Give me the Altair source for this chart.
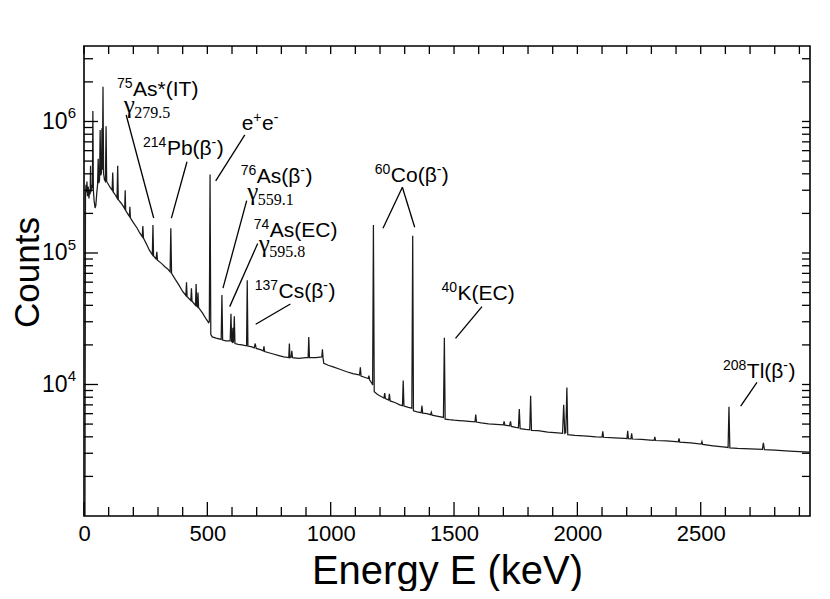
import altair as alt
import pandas as pd

# ---------------- spectrum ----------------
energy_keV = [
    4, 6, 8, 10, 12, 14, 17, 20, 23, 25, 26.5, 28, 31, 34, 36, 38, 41, 45, 48, 52,
    55, 57.5, 60, 63, 65.5, 68, 71, 72.8, 74.5, 77, 79.5, 83, 87, 89.5, 92, 98,
    106, 114, 116.5, 119, 128, 134, 136.5, 139, 150, 160, 165, 167, 169, 180,
    184, 186, 188, 200, 215, 226, 236, 238.6, 241, 255, 265, 277, 279.5, 282,
    292, 295.2, 298, 315, 330, 338, 349, 351.9, 355, 370, 385, 400, 413, 415.5,
    418, 433, 435.5, 438, 452, 454.5, 457, 459.5, 462, 464.5, 480, 495, 505, 508,
    511, 514, 520, 535, 556, 559.1, 562, 575, 592.5, 595.8, 598.5, 601, 603.5,
    606, 609.3, 612, 625, 640, 650, 659, 661.7, 664.5, 680, 690, 694, 698, 715,
    727, 729.5, 732, 760, 790, 810, 830, 832.5, 835, 840, 842.5, 845, 870, 900,
    908.5, 911.2, 914, 940, 964, 966.5, 969, 972, 990, 1010, 1040, 1065, 1090,
    1110, 1117, 1120.3, 1123, 1140, 1152, 1155, 1158, 1166, 1170, 1173.2, 1176.5,
    1190, 1210, 1216, 1219, 1222, 1235, 1238, 1241, 1260, 1280, 1291, 1294, 1297,
    1315, 1329, 1332.5, 1335.5, 1350, 1367, 1370, 1373, 1390, 1405, 1408, 1411,
    1430, 1457, 1460.8, 1464, 1480, 1500, 1520, 1540, 1560, 1585, 1588, 1591,
    1610, 1640, 1670, 1700, 1703, 1706, 1725, 1729, 1732, 1750, 1761, 1764.5,
    1768, 1790, 1807, 1810.5, 1814, 1840, 1880, 1920, 1940, 1944.5, 1949, 1953,
    1957.5, 1961, 1990, 2040, 2075, 2100, 2103, 2106, 2150, 2190, 2201, 2204,
    2207, 2217, 2220, 2223, 2260, 2295, 2311, 2314, 2317, 2360, 2400, 2409, 2412,
    2415, 2460, 2502, 2505, 2508, 2550, 2590, 2611, 2614.5, 2618, 2650, 2700,
    2750, 2754, 2758, 2800, 2860, 2920, 2943,
]
counts = [
    1000, 2.7e5, 3.3e5, 2.9e5, 3.5e5, 2.7e5, 3.2e5, 2.6e5, 3.0e5, 2.8e5, 4.6e5,
    2.9e5, 3.3e5, 3.1e5, 1.2e6, 3.0e5, 2.5e5, 2.2e5, 2.3e5, 2.9e5,
    3.3e5, 5.2e5, 3.4e5, 3.6e5, 8.6e5, 3.9e5, 4.1e5, 8.9e5, 4.3e5, 1.84e6,
    4.0e5, 3.6e5, 3.5e5, 9.2e5, 3.5e5, 3.35e5,
    3.15e5, 3.0e5, 4.1e5, 2.9e5, 2.75e5, 2.62e5, 4.6e5, 2.55e5, 2.4e5, 2.25e5,
    2.17e5, 3.0e5, 2.1e5, 1.95e5,
    1.9e5, 2.25e5, 1.85e5, 1.7e5, 1.55e5, 1.42e5, 1.33e5, 1.6e5, 1.3e5, 1.15e5,
    1.05e5, 9.7e4, 1.63e5, 9.5e4,
    9.0e4, 1.02e5, 8.8e4, 8.3e4, 7.8e4, 7.6e4, 7.2e4, 1.54e5, 7.0e4, 6.3e4,
    5.7e4, 5.1e4, 4.75e4, 6.0e4,
    4.65e4, 4.35e4, 5.4e4, 4.3e4, 4.0e4, 5.8e4, 3.95e4, 3.9e4, 5.0e4, 3.85e4,
    3.5e4, 3.15e4, 2.95e4, 3.0e4,
    3.95e5, 2.4e4, 2.3e4, 2.25e4, 2.2e4, 4.8e4, 2.18e4, 2.15e4, 2.15e4, 3.45e4,
    2.12e4, 2.1e4, 2.7e4,
    2.08e4, 3.3e4, 2.05e4, 2.02e4, 2.0e4, 1.98e4, 1.97e4, 6.2e4, 1.96e4, 1.93e4,
    1.9e4, 2.05e4, 1.88e4, 1.84e4,
    1.8e4, 1.95e4, 1.78e4, 1.72e4, 1.66e4, 1.62e4, 1.6e4, 2.05e4, 1.6e4, 1.62e4,
    1.8e4, 1.6e4, 1.58e4, 1.6e4,
    1.6e4, 2.3e4, 1.6e4, 1.6e4, 1.62e4, 1.85e4, 1.6e4, 1.45e4, 1.4e4, 1.36e4,
    1.3e4, 1.25e4, 1.21e4,
    1.19e4, 1.18e4, 1.35e4, 1.16e4, 1.13e4, 1.11e4, 1.17e4, 1.08e4, 1.03e4,
    9.9e3, 1.63e5, 8.8e3,
    8.4e3, 8.0e3, 7.9e3, 8.6e3, 7.8e3, 7.6e3, 8.5e3, 7.5e3, 7.3e3, 7.0e3, 6.9e3,
    1.07e4, 6.85e3,
    6.7e3, 6.6e3, 1.35e5, 6.3e3, 6.2e3, 6.1e3, 6.9e3, 6.05e3, 6.0e3, 5.9e3,
    6.15e3, 5.85e3,
    5.75e3, 5.62e3, 2.27e4, 5.45e3, 5.4e3, 5.35e3, 5.32e3, 5.3e3, 5.25e3, 5.2e3,
    5.9e3, 5.18e3,
    5.1e3, 5.02e3, 4.98e3, 4.93e3, 5.25e3, 4.9e3, 4.85e3, 5.25e3, 4.8e3, 4.72e3,
    4.68e3, 6.5e3,
    4.62e3, 4.55e3, 4.52e3, 8.2e3, 4.48e3, 4.45e3, 4.35e3, 4.28e3, 4.25e3,
    7.0e3, 4.25e3, 4.3e3,
    9.5e3, 4.15e3, 4.1e3, 4.05e3, 4.0e3, 3.98e3, 4.4e3, 3.97e3, 3.93e3, 3.9e3,
    3.88e3, 4.45e3,
    3.87e3, 3.86e3, 4.25e3, 3.85e3, 3.82e3, 3.78e3, 3.76e3, 4.0e3, 3.75e3,
    3.72e3, 3.68e3, 3.66e3, 3.9e3,
    3.65e3, 3.6e3, 3.52e3, 3.68e3, 3.5e3, 3.42e3, 3.35e3, 3.32e3, 6.77e3,
    3.3e3, 3.27e3, 3.24e3,
    3.21e3, 3.6e3, 3.2e3, 3.17e3, 3.12e3, 3.08e3, 3.06e3,
]

# ---------------- annotations (energy, counts anchors) ----------------
label_text = ["⁷⁵As*(IT)", "²¹⁴Pb(β⁻)", "e⁺e⁻", "⁷⁶As(β⁻)", "⁷⁴As(EC)",
              "¹³⁷Cs(β⁻)", "⁶⁰Co(β⁻)", "⁴⁰K(EC)", "²⁰⁸Tl(β⁻)"]
label_E = [133.8, 239.2, 639.0, 635.4, 687.9, 692.0, 1178.4, 1448.7, 2590.0]
label_C = [1.563e6, 5.56e5, 8.61e5, 3.41e5, 1.33e5, 4.55e4, 3.48e5, 4.39e4, 1.12e4]

gamma_sub = ["279.5", "559.1", "595.8"]
gamma_E = [161.0, 661.5, 708.2]
gamma_C = [1.17e6, 2.55e5, 1.02e5]

leader_E1 = [171.0, 417.5, 652.0, 659.5, 704.0, 836.6, 1290.6, 1290.6, 1613.3, 2728.0]
leader_C1 = [1.12e6, 4.94e5, 7.9e5, 2.5e5, 1.18e5, 4.09e4, 3.16e5, 3.16e5, 3.91e4, 1.039e4]
leader_E2 = [282.5, 354.3, 533.9, 563.4, 590.6, 696.0, 1212.0, 1340.5, 1506.0, 2662.0]
leader_C2 = [1.845e5, 1.84e5, 3.53e5, 5.4e4, 3.91e4, 2.87e4, 1.54e5, 1.57e5, 2.24e4, 6.86e3]

# ---------------- axis ticks ----------------
x_major = [0, 500, 1000, 1500, 2000, 2500]
x_minor = [v for v in range(100, 3000, 100) if v % 500 != 0]
x_all = list(range(0, 3000, 100))
y_major = [1e4, 1e5, 1e6]
y_major_exp = ["4", "5", "6"]
y_minor = [m * 10 ** k for k in (3, 4, 5) for m in range(2, 10)] + [2e6, 3e6]

W, H = 726, 470
FONT = "Liberation Sans"
MAIN_FS, SUP_FS, SUP_DY = 21, 14, -8

# Arial / Liberation Sans advance widths (em), used only to lay out the runs
ADV = {"A": .667, "s": .5, "*": .389, "(": .333, ")": .333, "I": .278,
       "T": .611, "P": .667, "b": .556, "β": .575, "e": .556, "E": .667,
       "C": .722, "K": .667, "o": .556, "l": .222, "+": .584, "-": .333}
SUP = dict(zip("⁰¹²³⁴⁵⁶⁷⁸⁹⁺⁻", "0123456789+-"))


def text_width(s, fs):
    return sum(ADV.get(ch, .556) for ch in s) * fs


def runs(label):
    """split a label with unicode superscripts into (text, is_sup) runs"""
    out = []
    for ch in label:
        sup = ch in SUP
        c = SUP.get(ch, ch)
        if out and out[-1][1] == sup:
            out[-1][0] += c
        else:
            out.append([c, sup])
    return out


rows = []
for t, e, c in zip(label_text, label_E, label_C):
    dx = 0.0
    for s, sup in runs(t):
        fs = SUP_FS if sup else MAIN_FS
        rows.append({"E": e, "C": c, "t": s, "sup": sup, "dx": round(dx, 1)})
        dx += text_width(s, fs) + (0.5 if sup else 0)
pieces = pd.DataFrame(rows)

xs = alt.Scale(domain=[0, 2943], nice=False, zero=False)
ys = alt.Scale(type="log", domain=[1000, 3.75e6], nice=False)

x_axis = alt.Axis(
    values=x_major, format="d", ticks=False, tickSize=0, domain=False,
    grid=False, labelFont=FONT, labelFontSize=22, labelColor="black",
    labelPadding=7, labelFlush=False, title="Energy E (keV)", titleFont=FONT,
    titleFontSize=40, titleFontWeight="normal", titleColor="black",
    titlePadding=7)
y_axis = alt.Axis(
    values=y_major, ticks=False, tickSize=0, domain=False, grid=False,
    labelExpr="'10'", labelFont=FONT, labelFontSize=23, labelColor="black",
    labelPadding=17, title="Counts", titleFont=FONT, titleFontSize=35,
    titleFontWeight="normal", titleColor="black", titlePadding=-4, titleY=226)


def X(f):
    return alt.X(f, scale=xs, axis=x_axis)


def Y(f):
    return alt.Y(f, scale=ys, axis=y_axis)


spec_df = pd.DataFrame({"E": energy_keV, "C": counts})
spectrum = alt.Chart(spec_df).mark_line(
    color="#1a1a1a", strokeWidth=1.25, clip=True
).encode(x=X("E:Q"), y=Y("C:Q"))


def xticks(vals, y0, y1):
    return alt.Chart(pd.DataFrame({"E": vals})).mark_rule(
        color="black", strokeWidth=1.3).encode(
        x=X("E:Q"), y=alt.value(y0), y2=alt.value(y1))


def yticks(vals, x0, x1):
    return alt.Chart(pd.DataFrame({"C": vals})).mark_rule(
        color="black", strokeWidth=1.3).encode(
        y=Y("C:Q"), x=alt.value(x0), x2=alt.value(x1))


tick_layers = [
    xticks(x_major, H, H - 14),
    xticks(x_minor, H, H - 9),
    xticks(x_all, 0, 8),
    yticks(y_major, 0, 14),
    yticks(y_minor, 0, 9),
    yticks(y_major + y_minor, W, W - 8),
]

# superscript exponents of the y tick labels (10^4, 10^5, 10^6)
y_exp = alt.Chart(pd.DataFrame({"C": y_major, "t": y_major_exp})).mark_text(
    align="right", baseline="middle", font=FONT, fontSize=15, color="black",
    dx=-8, dy=-8).encode(y=Y("C:Q"), x=alt.value(0), text="t:N")

leaders = alt.Chart(pd.DataFrame({
    "E1": leader_E1, "C1": leader_C1, "E2": leader_E2, "C2": leader_C2})
).mark_rule(color="black", strokeWidth=1.3).encode(
    x=X("E1:Q"), x2="E2:Q", y=Y("C1:Q"), y2="C2:Q")

main_text = alt.Chart(pieces).transform_filter("!datum.sup").mark_text(
    align="left", baseline="alphabetic", font=FONT, fontSize=MAIN_FS,
    color="black", dx={"expr": "datum.dx"}).encode(
    x=X("E:Q"), y=Y("C:Q"), text="t:N")
sup_text = alt.Chart(pieces).transform_filter("datum.sup").mark_text(
    align="left", baseline="alphabetic", font=FONT, fontSize=SUP_FS,
    color="black", dx={"expr": "datum.dx"}, dy=SUP_DY).encode(
    x=X("E:Q"), y=Y("C:Q"), text="t:N")

gdf = pd.DataFrame({"E": gamma_E, "C": gamma_C, "s": gamma_sub})
gammas = alt.Chart(gdf).mark_text(
    align="left", baseline="alphabetic", font="Liberation Serif", fontSize=25,
    color="black", text="γ").encode(x=X("E:Q"), y=Y("C:Q"))
gsubs = alt.Chart(gdf).mark_text(
    align="left", baseline="alphabetic", font="Liberation Serif", fontSize=16,
    color="black", dx=10.5, dy=5.5).encode(x=X("E:Q"), y=Y("C:Q"), text="s:N")

chart = alt.layer(spectrum, *tick_layers, y_exp, leaders, main_text, sup_text,
                  gammas, gsubs).properties(
    width=W, height=H,
    autosize=alt.AutoSizeParams(type="none"),
    padding={"left": 76, "top": 38, "right": 12, "bottom": 75},
    background="white",
).configure_view(stroke="black", strokeWidth=1.6)

chart.save("out.html", embed_options={"renderer": "svg", "actions": False})
